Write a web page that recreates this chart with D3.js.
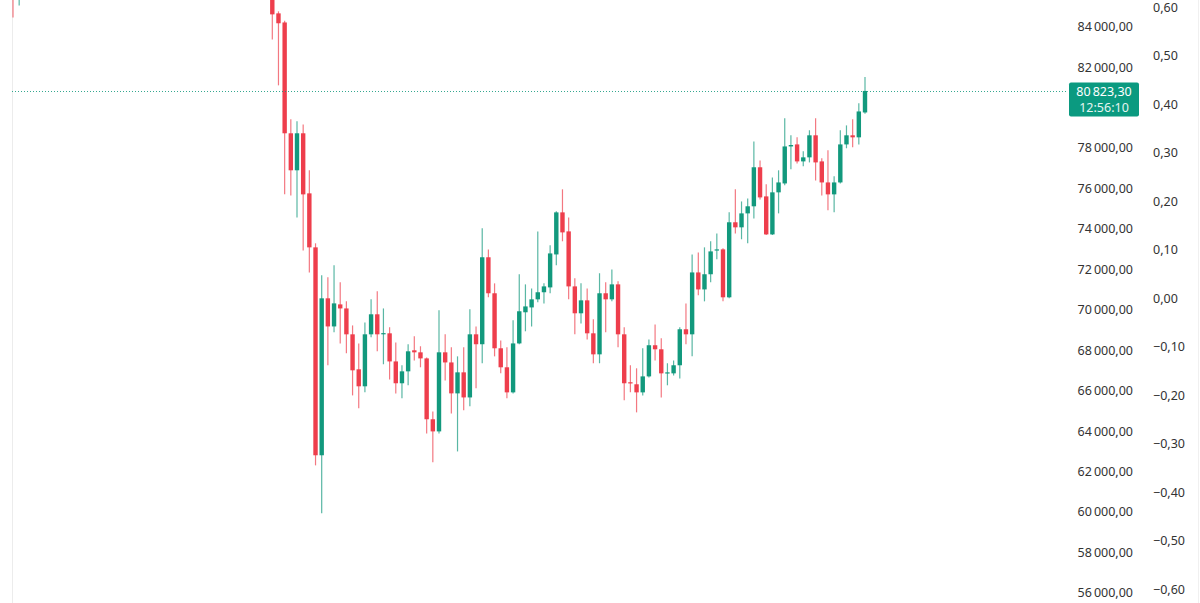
<!DOCTYPE html>
<html>
<head>
<meta charset="utf-8">
<script src="https://cdn.jsdelivr.net/npm/d3@7"></script>
<style>
  html, body { margin: 0; padding: 0; background: #fff; overflow: hidden; }
  svg text { font-family: "Noto Sans", "Open Sans", sans-serif; }
</style>
</head>
<body>
<div id="chart"></div>
<script>
// candle slot index (left to right)
let dayIdx = [0, 1,
    42, 43, 44, 45, 46, 47, 48, 49, 50, 51, 52, 53, 54, 55, 56, 57, 58, 59,
    60, 61, 62, 63, 64, 65, 66, 67, 68, 69, 70, 71, 72, 73, 74, 75, 76, 77, 78, 79,
    80, 81, 82, 83, 84, 85, 86, 87, 88, 89, 90, 91, 92, 93, 94, 95, 96, 97, 98, 99,
    100, 101, 102, 103, 104, 105, 106, 107, 108, 109, 110, 111, 112, 113, 114, 115, 116, 117, 118, 119,
    120, 121, 122, 123, 124, 125, 126, 127, 128, 129, 130, 131, 132, 133, 134, 135, 136, 137, 138];

let opens = [86800, 85700,
    86200, 84660, 84210, 78730, 76900, 78730, 75760, 73090, 62810, 70570, 69180, 70270, 70070, 68790, 67060, 66220, 68790, 69780,
    68790, 68840, 67450, 66370, 66960, 68000, 67900, 67600, 64590, 63990, 67900, 67400, 65870, 66910, 65670, 68790, 68300, 72600, 70820, 68100,
    67160, 65920, 68340, 69880, 70120, 70520, 70870, 71110, 72740, 74820, 73880, 71160, 69830, 70470, 68840, 67800, 70820, 70520, 71260, 68790,
    66420, 66320, 65920, 66710, 68250, 68050, 66860, 66860, 67260, 69040, 68790, 71850, 71010, 71760, 72940, 72990, 70620, 74330, 74080, 74770,
    75120, 77050, 75610, 73730, 75810, 76250, 78080, 78180, 77340, 77540, 78630, 77340, 76300, 75710, 76300, 78180, 78630, 78530, 79760];

let highs = [87200, 87300,
    86600, 84760, 84300, 79420, 79320, 79170, 76900, 73290, 71710, 71610, 72200, 71360, 70420, 69230, 68340, 69380, 70520, 70920,
    70070, 69140, 68390, 67260, 68300, 68690, 68200, 67650, 64980, 69980, 68790, 68150, 67700, 68150, 70030, 69180, 74030, 72990, 71310, 68490,
    68150, 69480, 71760, 71260, 71060, 73880, 71310, 73190, 74870, 75960, 74570, 71560, 71310, 71060, 69530, 71810, 71360, 72000, 71410, 69140,
    67260, 67110, 68100, 68540, 69280, 68590, 67360, 67500, 69140, 70320, 72740, 72840, 73090, 73390, 73780, 73050, 74820, 75960, 75360, 75510,
    78330, 77390, 76210, 76550, 76900, 79470, 78630, 78530, 77840, 78880, 79470, 77490, 77890, 76600, 78880, 79120, 79420, 80210, 81510];

let lows = [84460, 85050,
    83370, 81100, 75710, 75660, 74570, 72940, 71850, 62310, 59940, 67260, 68890, 68340, 67850, 65770, 65130, 65920, 68640, 67950,
    67310, 66560, 65870, 65630, 66270, 67500, 67160, 63890, 62460, 63890, 66510, 64880, 63000, 65030, 65230, 66120, 67360, 70620, 67700, 66860,
    65630, 65870, 68300, 68940, 69180, 70370, 70320, 70820, 72200, 73390, 70520, 68790, 69330, 68540, 67360, 67360, 68890, 70420, 68150, 65530,
    65920, 64930, 65770, 66660, 67500, 65670, 66270, 66760, 66610, 68300, 67700, 70720, 70420, 71360, 72500, 70420, 70570, 73780, 73490, 73290,
    74520, 75460, 73700, 73700, 74770, 76160, 76950, 77240, 77100, 77290, 76400, 75660, 74920, 74820, 76250, 77990, 78040, 78180, 79700];

let closes = [85700, 86900,
    84610, 84170, 78730, 76900, 78730, 75710, 73090, 62810, 70570, 69180, 70320, 70070, 68790, 67010, 66220, 68790, 69780, 68790,
    68850, 67450, 66370, 66960, 67950, 67900, 67600, 64590, 63990, 67900, 67400, 65870, 66910, 65670, 68790, 68300, 72600, 70820, 68100, 67160,
    65920, 68340, 69930, 70170, 70520, 70870, 71160, 72790, 74820, 73830, 71160, 69830, 70470, 68840, 67800, 70820, 70520, 71260, 68790, 66370,
    66370, 65920, 66710, 68250, 68050, 66860, 66910, 67260, 69040, 68790, 71850, 71010, 71760, 72890, 72990, 70620, 74330, 74080, 74770, 75120,
    77050, 75560, 73730, 75810, 76300, 78080, 78150, 77340, 77540, 78630, 77290, 76300, 75710, 76300, 78180, 78630, 78530, 79810, 80823.3];

let priceTicks = [56000, 58000, 60000, 62000, 64000, 66000, 68000, 70000, 72000, 74000, 76000, 78000, 82000, 84000];
let pctTicks = [0.6, 0.5, 0.4, 0.3, 0.2, 0.1, 0, -0.1, -0.2, -0.3, -0.4, -0.5, -0.6];
let lastPrice = 80823.3;
let countdown = "12:56:10";

let width = 1200, height = 603;
let upColor = "#12997d", downColor = "#ee3e4c";

let svg = d3.select("#chart").append("svg")
    .attr("width", width)
    .attr("height", height);

let x = d3.scaleLinear().domain([0, 138]).range([13, 865]);
let y = d3.scaleLinear().domain([56000, 84000]).range([593, 26.7]);
let yPct = d3.scaleLinear().domain([-0.6, 0.6]).range([589.5, 7.2]);

let locale = d3.formatLocale({ decimal: ",", thousands: "\u2009", grouping: [3], currency: ["", ""], minus: "\u2212" });
let fmtPrice = locale.format(",.2f");
let fmtPct = locale.format(".2f");

// faint frame lines
svg.append("line").attr("x1", 12.5).attr("x2", 12.5).attr("y1", 0).attr("y2", height)
    .attr("stroke", "#ececec");
svg.append("line").attr("x1", 1198.5).attr("x2", 1198.5).attr("y1", 0).attr("y2", height)
    .attr("stroke", "#f0f0f0");

let candles = dayIdx.map((d, i) => ({ d: d, o: opens[i], h: highs[i], l: lows[i], c: closes[i] }));

let g = svg.append("g");
let bodyW = 4.4;

g.selectAll("line.wick").data(candles).enter().append("line")
    .attr("class", "wick")
    .attr("x1", d => x(d.d)).attr("x2", d => x(d.d))
    .attr("y1", d => y(d.h)).attr("y2", d => y(d.l))
    .attr("stroke", d => d.c >= d.o ? upColor : downColor)
    .attr("stroke-opacity", 0.7)
    .attr("stroke-width", 1.2);

g.selectAll("rect.body").data(candles).enter().append("rect")
    .attr("class", "body")
    .attr("x", d => x(d.d) - bodyW / 2)
    .attr("width", bodyW)
    .attr("y", d => y(Math.max(d.o, d.c)))
    .attr("height", d => Math.max(1.2, Math.abs(y(d.o) - y(d.c))))
    .attr("fill", d => d.c >= d.o ? upColor : downColor);

// last price dotted line
svg.append("line")
    .attr("x1", 12).attr("x2", 1068)
    .attr("y1", Math.round(y(lastPrice)) + 0.5).attr("y2", Math.round(y(lastPrice)) + 0.5)
    .attr("stroke", upColor)
    .attr("stroke-opacity", 0.85)
    .attr("stroke-width", 1)
    .attr("stroke-dasharray", "1,2");

// price axis labels
svg.append("g").selectAll("text").data(priceTicks).enter().append("text")
    .attr("x", 1133)
    .attr("y", d => y(d))
    .attr("dy", "0.35em")
    .attr("text-anchor", "end")
    .attr("font-size", 12.5)
    .attr("fill", "#333")
    .text(d => fmtPrice(d));

// percent axis labels
svg.append("g").selectAll("text").data(pctTicks).enter().append("text")
    .attr("x", 1153)
    .attr("y", d => yPct(d))
    .attr("dy", "0.35em")
    .attr("text-anchor", "start")
    .attr("font-size", 12.5)
    .attr("fill", "#333")
    .text(d => fmtPct(d));

// last price tag
let tagY = y(lastPrice);
svg.append("rect")
    .attr("x", 1069).attr("y", tagY - 8.5)
    .attr("width", 70).attr("height", 34)
    .attr("rx", 2)
    .attr("fill", "#0b9a80");
svg.append("text")
    .attr("x", 1104).attr("y", tagY + 1)
    .attr("dy", "0.35em")
    .attr("text-anchor", "middle")
    .attr("font-size", 12.5)
    .attr("fill", "#fff")
    .text(fmtPrice(lastPrice));
svg.append("text")
    .attr("x", 1104).attr("y", tagY + 17)
    .attr("dy", "0.35em")
    .attr("text-anchor", "middle")
    .attr("font-size", 12.5)
    .attr("fill", "#e6f5f1")
    .text(countdown);
</script>
</body>
</html>
